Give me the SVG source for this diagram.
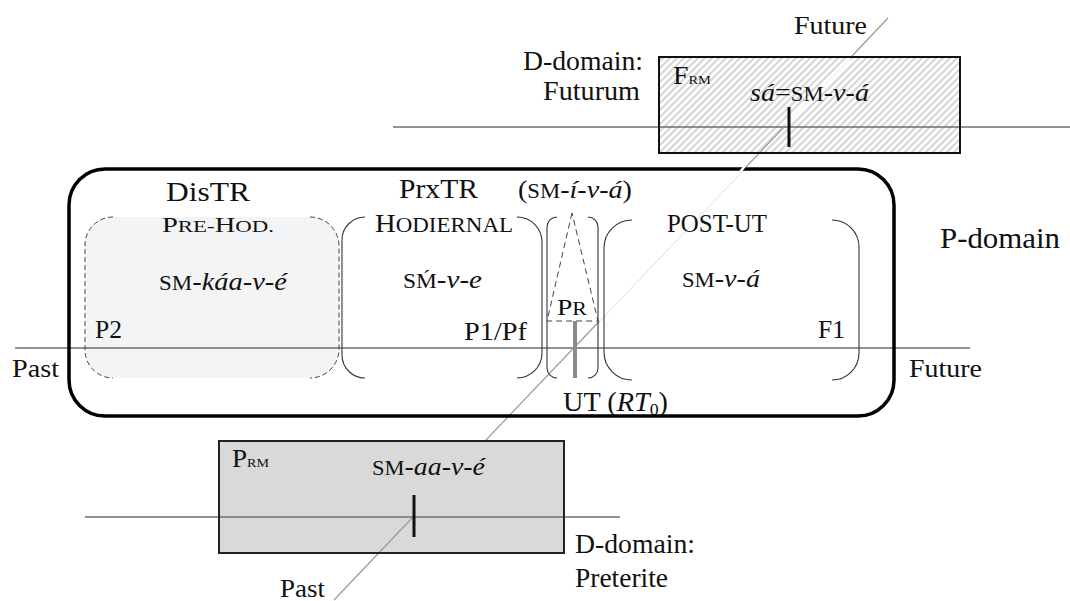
<svg xmlns="http://www.w3.org/2000/svg" width="1070" height="601" viewBox="0 0 1070 601" font-family="'Liberation Serif','Times New Roman',serif">
<style>
.t{font-family:"Liberation Serif","Times New Roman",serif;font-size:26px;fill:#111}
.i{font-style:italic}
.axis{stroke:#6e6e6e;stroke-width:1.6;fill:none}
.diag{stroke:#9a9a9a;stroke-width:1.2;fill:none}
.tick{stroke:#111;stroke-width:3}
.br{stroke:#333;stroke-width:1.1;fill:none}
.dash{stroke:#444;stroke-width:1;fill:none;stroke-dasharray:5 3}
</style>
<defs>
<pattern id="hatch" patternUnits="userSpaceOnUse" width="7" height="7">
<rect width="7" height="7" fill="#ffffff"/>
<path d="M-1,8 L8,-1 M-4,4 L4,-4 M3,11 L11,3" stroke="#d6d6d6" stroke-width="2"/>
</pattern>
</defs>

<rect width="1070" height="601" fill="#ffffff"/>

<g id="futurum-box">
<rect x="659" y="57" width="301" height="96" fill="url(#hatch)"/>
</g>
<g id="preterite-box">
<rect x="219" y="441" width="345" height="112" fill="#d9d9d9"/>
</g>
<g id="pre-hod">
<rect x="85" y="217" width="254" height="161" rx="28" fill="#f3f4f6"/>
</g>

<g id="connectors">
<line class="axis" x1="393" y1="127" x2="1070" y2="127"/>
<line class="axis" x1="15" y1="348" x2="970" y2="348"/>
<line class="axis" x1="85" y1="517" x2="620" y2="517"/>
<line class="diag" x1="888" y1="18" x2="852" y2="56"/>
<line x1="850" y1="59" x2="786" y2="125" stroke="#ffffff" stroke-width="4"/>
<line x1="850" y1="59" x2="786" y2="125" stroke="#eeeeee" stroke-width="1"/>
<line class="diag" x1="784" y1="127" x2="745" y2="168"/>
<line x1="742" y1="172" x2="600" y2="321" stroke="#dddddd" stroke-width="1"/>
<line class="diag" x1="599.5" y1="321" x2="485" y2="441"/>
<line class="diag" x1="413" y1="517" x2="334" y2="600"/>
</g>

<g id="futurum-frame">
<rect x="659" y="57" width="301" height="96" fill="none" stroke="#111" stroke-width="2"/>
<line class="tick" x1="789" y1="107" x2="789" y2="147"/>
<text class="t" x="673" y="84" textLength="38" lengthAdjust="spacingAndGlyphs"><tspan font-size="25">F</tspan><tspan font-size="13">RM</tspan></text>
<text class="t" x="750" y="101" textLength="119" lengthAdjust="spacingAndGlyphs" style="font-size:26px"><tspan class="i">sá</tspan>=<tspan font-size="21">SM</tspan>-<tspan class="i">v</tspan>-<tspan class="i">á</tspan></text>
</g>

<g id="preterite-frame">
<rect x="219" y="441" width="345" height="112" fill="none" stroke="#222" stroke-width="2"/>
<line class="tick" x1="414" y1="495" x2="414" y2="537"/>
<text class="t" x="232" y="467" textLength="37" lengthAdjust="spacingAndGlyphs"><tspan font-size="25">P</tspan><tspan font-size="13">RM</tspan></text>
<text class="t" x="372" y="475" textLength="113" lengthAdjust="spacingAndGlyphs" style="font-size:26px"><tspan font-size="21">SM</tspan>-<tspan class="i">aa</tspan>-<tspan class="i">v</tspan>-<tspan class="i">é</tspan></text>
</g>

<g id="pre-hod-frame">
<path class="dash" d="M113,217 A28,28 0 0 0 85,245 V350 A28,28 0 0 0 113,378"/>
<path class="dash" d="M310,217 A29,29 0 0 1 339,246 V349 A29,29 0 0 1 310,378"/>
<text class="t" x="162" y="232" textLength="112" lengthAdjust="spacingAndGlyphs"><tspan font-size="20">P</tspan><tspan font-size="16">RE-</tspan><tspan font-size="20">H</tspan><tspan font-size="16">OD.</tspan></text>
<text class="t" x="159" y="290" textLength="128" lengthAdjust="spacingAndGlyphs" style="font-size:26px"><tspan font-size="21">SM</tspan>-<tspan class="i">káa</tspan>-<tspan class="i">v</tspan>-<tspan class="i">é</tspan></text>
<text class="t" x="95" y="338" textLength="27" lengthAdjust="spacingAndGlyphs">P2</text>
</g>

<g id="hodiernal">
<path class="br" d="M365,217 A23,23 0 0 0 342,240 V355 A23,23 0 0 0 365,378"/>
<path class="br" d="M517,217 A25,25 0 0 1 542,242 V353 A25,25 0 0 1 517,378"/>
<text class="t" x="375" y="232" textLength="138" lengthAdjust="spacingAndGlyphs"><tspan font-size="25">H</tspan><tspan font-size="20">ODIERNAL</tspan></text>
<text class="t" x="403" y="288" textLength="79" lengthAdjust="spacingAndGlyphs" style="font-size:26px"><tspan font-size="21">SḾ</tspan>-<tspan class="i">v</tspan>-<tspan class="i">e</tspan></text>
<text class="t" x="464" y="340" textLength="63" lengthAdjust="spacingAndGlyphs">P1/Pf</text>
</g>

<g id="pr">
<path class="br" d="M557,217 A10,10 0 0 0 547,227 V368 A10,10 0 0 0 557,378"/>
<path class="br" d="M588,217 A10,10 0 0 1 598,227 V368 A10,10 0 0 1 588,378"/>
<polygon class="dash" points="572,213 547,321 598,321" style="stroke-dasharray:6 4"/>
<line x1="575" y1="321" x2="575" y2="378" stroke="#8a8a8a" stroke-width="4"/>
<text class="t" x="557" y="315" textLength="30" lengthAdjust="spacingAndGlyphs"><tspan font-size="24">P</tspan><tspan font-size="19">R</tspan></text>
<text class="t" x="518" y="198" textLength="114" lengthAdjust="spacingAndGlyphs" style="font-size:26px">(<tspan font-size="21">SM</tspan>-<tspan class="i">í</tspan>-<tspan class="i">v</tspan>-<tspan class="i">á</tspan>)</text>
<text class="t" x="563" y="411" textLength="105" lengthAdjust="spacingAndGlyphs" style="font-size:27px">UT (<tspan class="i">RT</tspan><tspan font-size="17" dy="4">0</tspan><tspan dy="-4">)</tspan></text>
</g>

<g id="post-ut">
<path class="br" d="M632,220 A28,28 0 0 0 604,248 V352 A28,28 0 0 0 632,380"/>
<path class="br" d="M832,220 A27,27 0 0 1 859,247 V353 A27,27 0 0 1 832,380"/>
<text class="t" x="667" y="232" textLength="100" lengthAdjust="spacingAndGlyphs" style="font-size:25px">POST-UT</text>
<text class="t" x="682" y="287" textLength="78" lengthAdjust="spacingAndGlyphs" style="font-size:26px"><tspan font-size="21">SM</tspan>-<tspan class="i">v</tspan>-<tspan class="i">á</tspan></text>
<text class="t" x="818" y="338" textLength="27" lengthAdjust="spacingAndGlyphs">F1</text>
</g>

<g id="p-domain">
<rect x="69" y="169" width="825" height="247" rx="36" fill="none" stroke="#000" stroke-width="3.5"/>
<line x1="745" y1="166" x2="740" y2="172" stroke="#ffffff" stroke-width="2.5"/>
<text class="t" x="166" y="201" textLength="84" lengthAdjust="spacingAndGlyphs" style="font-size:27px">DisTR</text>
<text class="t" x="399" y="198" textLength="79" lengthAdjust="spacingAndGlyphs" style="font-size:27px">PrxTR</text>
<text class="t" x="940" y="248" textLength="120" lengthAdjust="spacingAndGlyphs" style="font-size:30px">P-domain</text>
</g>

<g id="labels">
<text class="t" x="794" y="34" textLength="73" lengthAdjust="spacingAndGlyphs">Future</text>
<text class="t" x="523" y="70" textLength="120" lengthAdjust="spacingAndGlyphs" style="font-size:28px">D-domain:</text>
<text class="t" x="543" y="100" textLength="97" lengthAdjust="spacingAndGlyphs" style="font-size:28px">Futurum</text>
<text class="t" x="12" y="377" textLength="47" lengthAdjust="spacingAndGlyphs">Past</text>
<text class="t" x="909" y="377" textLength="73" lengthAdjust="spacingAndGlyphs">Future</text>
<text class="t" x="575" y="553" textLength="120" lengthAdjust="spacingAndGlyphs" style="font-size:27px">D-domain:</text>
<text class="t" x="575" y="587" textLength="93" lengthAdjust="spacingAndGlyphs" style="font-size:27px">Preterite</text>
<text class="t" x="280" y="597" textLength="45" lengthAdjust="spacingAndGlyphs">Past</text>
</g>
</svg>
